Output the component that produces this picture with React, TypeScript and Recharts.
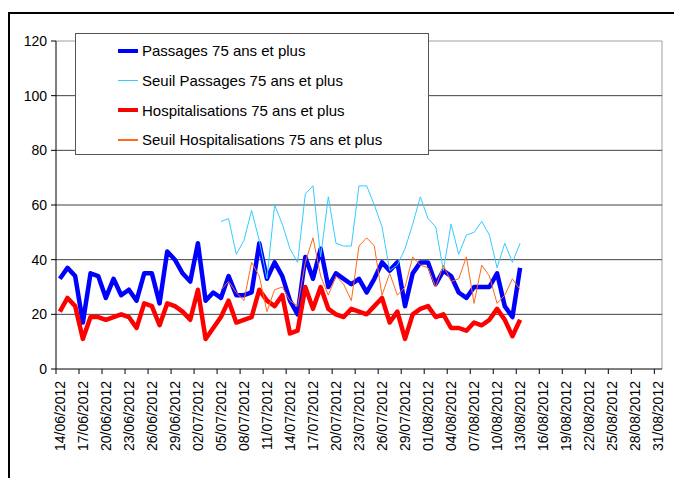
import React from "react";
import { LineChart, Line, XAxis, YAxis, CartesianGrid, ReferenceLine } from "recharts";

// catégories : un jour par point, du 14/06/2012 au 31/08/2012
const months = [
  { month: "06", from: 14, to: 30 },
  { month: "07", from: 1, to: 31 },
  { month: "08", from: 1, to: 31 },
];
const dates: string[] = [];
months.forEach((m) => {
  for (let d = m.from; d <= m.to; d++) {
    dates.push(`${String(d).padStart(2, "0")}/${m.month}/2012`);
  }
});

// 14/06 -> 13/08
const passages = [
  33, 37, 34, 17, 35, 34, 26, 33, 27, 29, 25, 35, 35, 24, 43, 40, 35, 32, 46, 25,
  28, 26, 34, 27, 27, 28, 46, 33, 39, 34, 25, 20, 41, 33, 44, 30, 35, 33, 31, 33,
  28, 33, 39, 36, 39, 23, 35, 39, 39, 31, 36, 34, 28, 26, 30, 30, 30, 35, 23, 19,
  37,
];
const hospitalisations = [
  21, 26, 23, 11, 19, 19, 18, 19, 20, 19, 15, 24, 23, 16, 24, 23, 21, 18, 29, 11,
  15, 19, 25, 17, 18, 19, 29, 25, 23, 27, 13, 14, 30, 22, 30, 22, 20, 19, 22, 21,
  20, 23, 26, 17, 21, 11, 20, 22, 23, 19, 20, 15, 15, 14, 17, 16, 18, 22, 18, 12,
  18,
];
// 05/07 -> 13/08
const seuilPassages = [
  54, 55, 42, 47, 58, 47, 33, 60, 53, 44, 39, 64, 67, 41, 63, 46, 45, 45, 67, 67,
  60, 52, 36, 38, 44, 53, 63, 55, 52, 36, 53, 42, 49, 50, 54, 49, 37, 46, 39, 46,
];
const seuilHospitalisations = [
  29, 32, 28, 25, 39, 34, 21, 29, 30, 25, 23, 39, 48, 34, 27, 34, 31, 25, 45, 48,
  45, 27, 35, 27, 30, 41, 38, 37, 30, 38, 32, 33, 41, 24, 38, 34, 24, 27, 33, 29,
];
const seuilStart = 21;

const yTicks = [0, 20, 40, 60, 80, 100, 120];
const gridValues = [20, 40, 60, 80, 100];

const series = [
  { key: "passages", name: "Passages 75 ans et plus", color: "#0000ff", width: 4.5 },
  { key: "seuilPassages", name: "Seuil Passages 75 ans et plus", color: "#33ccff", width: 1 },
  { key: "hospitalisations", name: "Hospitalisations 75 ans et plus", color: "#ff0000", width: 4.5 },
  { key: "seuilHospitalisations", name: "Seuil Hospitalisations 75 ans et plus", color: "#ff6a1a", width: 1 },
];

const data = dates.map((date, i) => ({
  date,
  passages: passages[i],
  hospitalisations: hospitalisations[i],
  seuilPassages: i >= seuilStart ? seuilPassages[i - seuilStart] : undefined,
  seuilHospitalisations: i >= seuilStart ? seuilHospitalisations[i - seuilStart] : undefined,
}));

const FONT = "'Liberation Sans', Arial, sans-serif";
const HALF_STEP = 3.835;

function DateTick(props: any) {
  const { x, y, payload } = props;
  const axisY = y - 7;
  return (
    <g>
      <line x1={x - HALF_STEP} y1={axisY} x2={x - HALF_STEP} y2={axisY + 5} stroke="#000" />
      <text
        x={x}
        y={axisY + 12}
        transform={`rotate(-90, ${x}, ${axisY + 12})`}
        textAnchor="end"
        dy="0.36em"
        fontSize={14}
        fontFamily={FONT}
        fill="#000"
      >
        {payload.value}
      </text>
    </g>
  );
}

function LegendBox() {
  return (
    <div
      style={{
        position: "absolute",
        left: 67,
        top: 25,
        width: 352,
        height: 118,
        border: "1px solid #555",
        background: "#fff",
        fontFamily: FONT,
        fontSize: 15,
        color: "#000",
        paddingTop: 2,
      }}
    >
      {series.map((s) => (
        <div key={s.key} style={{ height: 29.7, display: "flex", alignItems: "center" }}>
          <div style={{ marginLeft: 42, width: 20, height: s.width > 2 ? 4 : 1.5, background: s.color }} />
          <span style={{ marginLeft: 4 }}>{s.name}</span>
        </div>
      ))}
    </div>
  );
}

export default function App() {
  return (
    <div style={{ position: "relative", width: 674, height: 470 }}>
      <div
        style={{
          position: "absolute",
          left: 0,
          top: 4,
          width: 664,
          height: 480,
          border: "2px solid #000",
        }}
      />
      <div style={{ position: "absolute", left: 0, top: 0 }}>
        <LineChart width={674} height={470} data={data} margin={{ top: 33, right: 20, bottom: 29, left: 8 }}>
          <CartesianGrid horizontalPoints={[33]} verticalPoints={[654]} stroke="#a0a0a0" />
          {gridValues.map((v) => (
            <ReferenceLine key={v} y={v} stroke="#404040" strokeWidth={1} />
          ))}
          <XAxis
            dataKey="date"
            interval={2}
            height={80}
            padding={{ left: HALF_STEP, right: HALF_STEP }}
            tickLine={false}
            tickSize={5}
            tickMargin={2}
            stroke="#000"
            tick={<DateTick />}
          />
          <YAxis
            domain={[0, 120]}
            ticks={yTicks}
            width={40}
            tickSize={5}
            tickMargin={4}
            stroke="#000"
            tick={{ fill: "#000", fontSize: 14, fontFamily: FONT }}
          />
          {series.map((s) => (
            <Line
              key={s.key}
              type="linear"
              dataKey={s.key}
              name={s.name}
              stroke={s.color}
              strokeWidth={s.width}
              strokeLinejoin="round"
              dot={false}
              activeDot={false}
              isAnimationActive={false}
            />
          ))}
        </LineChart>
      </div>
      <LegendBox />
    </div>
  );
}
